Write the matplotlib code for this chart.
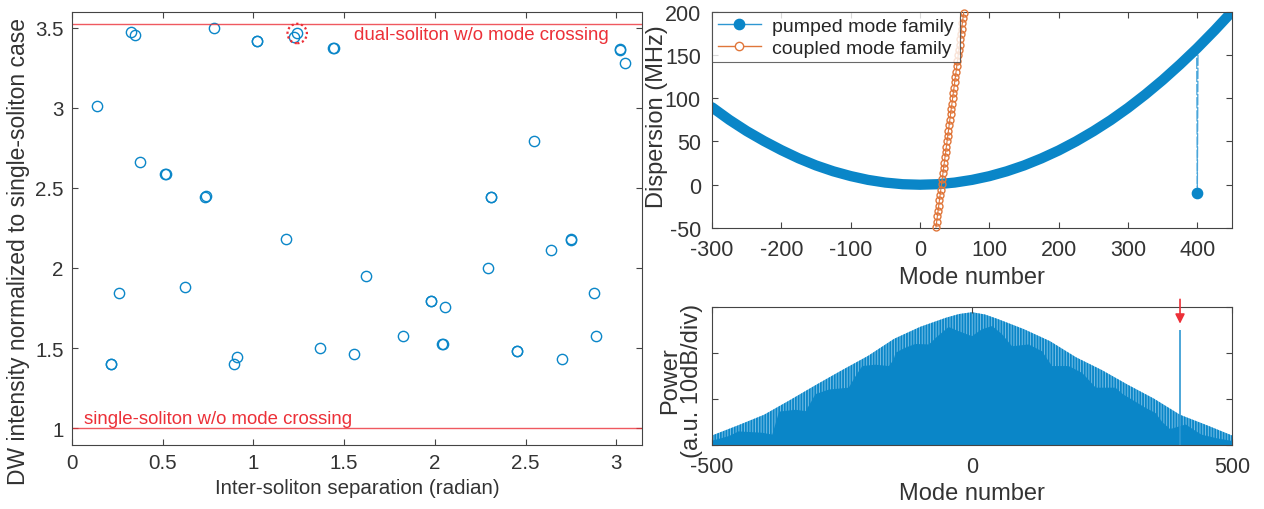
import numpy as np
import matplotlib
matplotlib.use('Agg')
from matplotlib import pyplot as plt
from matplotlib.lines import Line2D

plt.rcParams['font.family'] = ['Liberation Sans', 'DejaVu Sans']
plt.rcParams['axes.unicode_minus'] = False
plt.rcParams['hatch.linewidth'] = 1.3

BLUE = '#0a86c8'
ORANGE = '#e0763a'
RED = '#ec3038'
AXC = '#444444'
TXT = '#333333'

# ---- left panel: DW intensity vs inter-soliton separation
sep = [0.136, 0.324, 0.346, 0.375, 0.515, 0.518, 0.735, 0.738, 0.781, 1.020, 1.022,
       1.177, 1.226, 1.241, 1.441, 1.443, 2.548, 2.307, 2.309, 2.638, 2.748, 2.750,
       3.019, 3.021, 3.046, 0.261, 0.213, 0.215, 0.623, 0.892, 0.910, 1.364, 1.552,
       1.618, 1.824, 1.978, 1.980, 2.055, 2.041, 2.043, 2.293, 2.451, 2.453, 2.703,
       2.875, 2.890]
dw = [3.014, 3.475, 3.454, 2.660, 2.587, 2.588, 2.446, 2.447, 3.500, 3.414, 3.415,
      2.180, 3.444, 3.464, 3.372, 3.373, 2.790, 2.441, 2.442, 2.114, 2.177, 2.178,
      3.364, 3.365, 3.281, 1.846, 1.402, 1.403, 1.883, 1.402, 1.447, 1.502, 1.460,
      1.948, 1.577, 1.796, 1.797, 1.756, 1.525, 1.526, 2.000, 1.483, 1.484, 1.429,
      1.844, 1.577]
single_level = 1.0
dual_level = 3.525
marked = (1.241, 3.464)

# ---- top right: dispersion of the two mode families
pumped_mode = [-300, -275, -250, -225, -200, -175, -150, -125, -100, -75, -50, -25, 0,
               25, 50, 75, 100, 125, 150, 175, 200, 225, 250, 275, 300, 325, 350, 375,
               399, 400, 401, 425, 450]
pumped_disp = [89.5, 75.0, 62.0, 50.5, 40.0, 30.5, 22.3, 15.5, 10.0, 5.6, 2.5, 0.6, 0.0,
               0.6, 2.5, 5.6, 9.9, 15.5, 22.3, 30.4, 39.6, 50.1, 61.8, 74.6, 88.8, 104.3,
               121.0, 139.0, 157.3, -9.6, 158.9, 178.5, 200.0]
coupled_mode = list(range(23, 64))
coupled_disp = [-49.0, -42.8, -36.6, -30.4, -24.2, -18.0, -11.8, -5.6, 0.6, 6.8, 13.0,
                19.2, 25.4, 31.6, 37.8, 44.0, 50.2, 56.4, 62.6, 68.8, 75.0, 81.2, 87.4,
                93.6, 99.8, 106.0, 112.2, 118.4, 124.6, 130.8, 137.0, 143.2, 149.4,
                155.6, 161.8, 168.0, 174.2, 180.4, 186.6, 192.8, 199.0]

# ---- bottom right: optical spectrum envelope (10 dB/div)
outer_mode = [-500, -450, -400, -350, -300, -250, -200, -150, -100, -50, -25, 0, 25, 50,
              100, 150, 200, 250, 300, 350, 400, 450, 500]
outer_pow = [2.0, 4.2, 6.5, 9.7, 13.0, 16.2, 19.3, 23.0, 25.6, 27.6, 28.4, 28.8, 28.3,
             27.3, 25.1, 22.5, 19.0, 16.2, 13.0, 10.0, 6.5, 4.3, 2.0]
inner_mode = [-500, -468, -450, -404, -385, -378, -372, -340, -321, -310, -302, -276,
              -238, -225, -212, -187, -161, -152, -148, -129, -110, -84, -78, -71, -46,
              -27, -1, 18, 38, 57, 76, 108, 134, 145, 153, 185, 211, 225, 237, 275, 290,
              301, 333, 352, 365, 380, 410, 440, 470, 500]
inner_pow = [1.0, 2.0, 3.0, 2.7, 2.3, 5.0, 7.3, 7.7, 7.4, 9.5, 11.1, 12.1, 12.5, 15.0,
             17.2, 17.5, 17.2, 18.5, 20.1, 21.2, 22.0, 21.9, 22.5, 23.3, 25.7, 24.8, 23.7,
             25.2, 25.9, 24.1, 21.5, 21.9, 20.4, 18.5, 17.2, 17.2, 15.7, 14.0, 12.5, 12.5,
             11.0, 10.3, 8.1, 7.0, 5.0, 3.5, 4.5, 2.3, 1.5, 0.9]
dw_mode = 400
dw_pow = 25.0


def style(ax, fs, pad=6):
	for s in ax.spines.values():
		s.set_color(AXC)
		s.set_linewidth(0.8)
	ax.tick_params(direction='in', top=True, right=True, length=4, width=0.8,
				   color=AXC, labelcolor=TXT, labelsize=fs, pad=pad)


fig = plt.figure(figsize=(12.64, 5.10), dpi=100)

ax1 = fig.add_axes([0.0570, 0.1255, 0.4509, 0.8496])
ax1.plot(sep, dw, 'o', ms=7.4, mfc='none', mec=BLUE, mew=1.0)
ax1.axhline(single_level, color=RED, lw=1.0, alpha=0.8)
ax1.axhline(dual_level, color=RED, lw=1.0, alpha=0.8)
ax1.scatter([marked[0]], [marked[1]], s=14 ** 2, facecolors='none', edgecolors=RED,
			linewidths=1.6, linestyles=(0, (1, 1.2)), zorder=3)
ax1.text(2.956, 3.458, 'dual-soliton w/o mode crossing', color=RED, fontsize=13.4,
		 ha='right', va='center')
ax1.text(0.066, 1.058, 'single-soliton w/o mode crossing', color=RED, fontsize=13.4,
		 ha='left', va='center')
ax1.set_xlim(0, np.pi)
ax1.set_ylim(0.895, 3.6)
ax1.set_xticks([0, 0.5, 1, 1.5, 2, 2.5, 3])
ax1.set_xticklabels(['0', '0.5', '1', '1.5', '2', '2.5', '3'])
ax1.set_yticks([1, 1.5, 2, 2.5, 3, 3.5])
ax1.set_yticklabels(['1', '1.5', '2', '2.5', '3', '3.5'])
style(ax1, 14.8)
ax1.set_xlabel('Inter-soliton separation (radian)', fontsize=14.8, color=TXT, labelpad=4)
ax1.set_ylabel('DW intensity normalized to single-soliton case', fontsize=16.5, color=TXT)
ax1.yaxis.set_label_coords(-0.073, 0.45)

ax2 = fig.add_axes([0.5633, 0.5510, 0.4114, 0.4241])
band_m = [m for m, d in zip(pumped_mode, pumped_disp) if m != dw_mode]
band_d = [d for m, d in zip(pumped_mode, pumped_disp) if m != dw_mode]
ax2.plot(pumped_mode, pumped_disp, '-', color='#4aa6da', lw=0.9, zorder=1,
		 dashes=(9, 1.5))
ax2.plot(band_m, band_d, '-', color=BLUE, lw=7.4, solid_capstyle='round', zorder=2)
ax2.plot([dw_mode], [pumped_disp[pumped_mode.index(dw_mode)]], 'o', color=BLUE, ms=7.4,
		 zorder=3)
ax2.plot(coupled_mode, coupled_disp, '-o', color=ORANGE, lw=0.8, ms=5.0, mfc='none',
		 mew=1.0, zorder=3, clip_on=False)
ax2.set_xlim(-300, 450)
ax2.set_ylim(-50, 200)
ax2.set_xticks(range(-300, 401, 100))
ax2.set_yticks(range(-50, 201, 50))
style(ax2, 15.5, pad=8)
ax2.set_xlabel('Mode number', fontsize=17, color=TXT, labelpad=4)
ax2.set_ylabel('Dispersion (MHz)', fontsize=17, color=TXT)
ax2.yaxis.set_label_coords(-0.085, 0.52)
h1 = Line2D([], [], color='#2e97d2', lw=1.0, marker='o', ms=7.4, mfc=BLUE, mec=BLUE)
h2 = Line2D([], [], color=ORANGE, lw=1.0, marker='o', ms=6, mfc='white', mec=ORANGE)
leg = ax2.legend([h1, h2], ['pumped mode family', 'coupled mode family'], loc='upper left',
				 fontsize=14.0, frameon=True, fancybox=False, borderaxespad=0,
				 handlelength=2.2, handletextpad=0.6, borderpad=0.3, labelspacing=0.2)
leg.get_frame().set_edgecolor(AXC)
leg.get_frame().set_linewidth(0.8)
for t in leg.get_texts():
	t.set_color('#262626')

ax3 = fig.add_axes([0.5633, 0.1261, 0.4114, 0.2706])
ax3.fill_between(outer_mode, 0, outer_pow, facecolor='#78bfe6', edgecolor=BLUE,
				 hatch='||||||', linewidth=0, zorder=1)
ax3.fill_between(inner_mode, 0, inner_pow, color=BLUE, linewidth=0, zorder=2)
ax3.vlines([dw_mode], 0, [dw_pow], color='#2e97d2', lw=1.2, zorder=3)
ax3.annotate('', xy=(dw_mode, dw_pow + 0.7), xytext=(dw_mode, 32.2),
			 arrowprops=dict(arrowstyle='-|>', color=RED, lw=1.2, mutation_scale=14),
			 annotation_clip=False)
ax3.set_xlim(-500, 500)
ax3.set_ylim(0, 30)
ax3.set_xticks([-500, 0, 500])
ax3.set_yticks([0, 10, 20, 30])
ax3.set_yticklabels([])
style(ax3, 15.5, pad=8)
ax3.set_xlabel('Mode number', fontsize=17, color=TXT, labelpad=4)
ax3.set_ylabel('Power\n(a.u. 10dB/div)', fontsize=17, color=TXT, linespacing=1.0)
ax3.yaxis.set_label_coords(-0.018, 0.47)

fig.savefig('out.png', dpi=100)
